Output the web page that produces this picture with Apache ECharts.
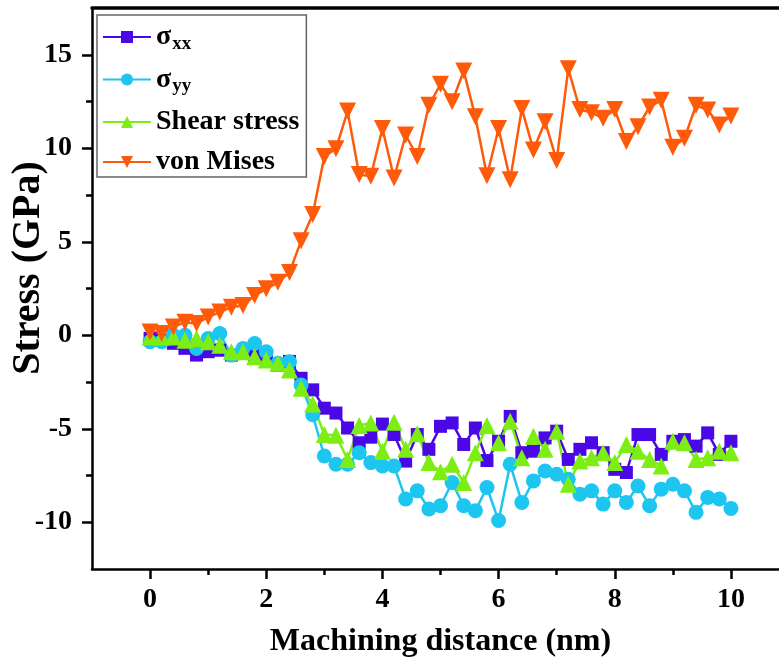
<!DOCTYPE html>
<html>
<head>
<meta charset="utf-8">
<script src="https://cdn.jsdelivr.net/npm/echarts@6/dist/echarts.min.js"></script>
<style>
html,body{margin:0;padding:0;background:#fff;}
#chart{width:779px;height:661px;}
</style>
</head>
<body>
<div id="chart"></div>
<script>
const distance = [0,0.2,0.4,0.6,0.8,1.0,1.2,1.4,1.6,1.8,2.0,2.2,2.4,2.6,2.8,3.0,3.2,3.4,3.6,3.8,4.0,4.2,4.4,4.6,4.8,5.0,5.2,5.4,5.6,5.8,6.0,6.2,6.4,6.6,6.8,7.0,7.2,7.4,7.6,7.8,8.0,8.2,8.4,8.6,8.8,9.0,9.2,9.4,9.6,9.8,10.0];
const sigmaXX = [-0.17,-0.27,-0.43,-0.7,-1.06,-0.88,-0.8,-1.06,-0.97,-1.06,-1.24,-1.6,-1.4,-2.3,-2.92,-3.9,-4.16,-4.96,-5.75,-5.45,-4.75,-5.31,-6.73,-5.31,-6.1,-4.87,-4.69,-5.84,-4.96,-6.7,-5.67,-4.34,-6.28,-6.2,-5.49,-5.13,-6.64,-6.1,-5.75,-6.28,-7.17,-7.34,-5.31,-5.31,-6.37,-5.67,-5.58,-5.93,-5.22,-6.37,-5.67];
const sigmaYY = [-0.35,-0.35,0,0,-0.71,-0.18,0.09,-1.06,-0.71,-0.44,-0.88,-1.5,-1.42,-2.66,-4.25,-6.46,-6.9,-6.9,-6.28,-6.81,-6.99,-6.99,-8.76,-8.32,-9.29,-9.12,-7.88,-9.12,-9.38,-8.14,-9.91,-6.9,-8.94,-7.79,-7.26,-7.43,-7.7,-8.5,-8.32,-9.03,-8.32,-8.94,-8.06,-9.12,-8.23,-7.97,-8.32,-9.47,-8.67,-8.76,-9.26];
const shearStress = [-0.09,-0.09,-0.09,-0.27,-0.18,-0.35,-0.53,-0.88,-0.88,-1.15,-1.33,-1.5,-1.86,-2.83,-3.68,-5.31,-5.35,-6.64,-4.82,-4.69,-6.2,-4.65,-6.1,-5.27,-6.81,-7.3,-6.9,-7.88,-6.28,-4.82,-5.75,-4.6,-6.55,-5.4,-6.1,-5.13,-7.97,-6.73,-6.55,-6.28,-6.81,-5.84,-6.2,-6.64,-6.99,-5.67,-5.75,-6.64,-6.55,-6.2,-6.28];
const vonMises = [0.18,0.1,0.44,0.7,0.63,0.97,1.24,1.5,1.59,2.12,2.48,2.83,3.36,5.05,6.46,9.56,9.97,11.99,8.59,8.5,11.06,8.41,10.71,9.56,12.3,13.42,12.48,14.13,11.68,8.53,11.06,8.32,12.12,9.91,11.42,9.35,14.25,12.07,11.9,11.6,12.07,10.36,11.15,12.21,12.57,10.05,10.53,12.3,12.04,11.24,11.72];
const xMajorTicks = [0,2,4,6,8,10];
const xMinorTicks = [1,3,5,7,9];
const yMajorTicks = [-10,-5,0,5,10,15];
const yMinorTicks = [-7.5,-2.5,2.5,7.5,12.5];
const seriesNames = ['σxx','σyy','Shear stress','von Mises'];
const yTitle = 'Stress (GPa)';
const xTitle = 'Machining distance (nm)';

const FONT = 'Liberation Serif';
const pair = arr => distance.map((d,i)=>[d,arr[i]]);
const chart = echarts.init(document.getElementById('chart'));
const axisLine = {show:true, onZero:false, lineStyle:{color:'#000', width:2.5}};
const hiddenLine = {show:false, onZero:false};
chart.setOption({
  animation:false,
  backgroundColor:'#fff',
  grid:{left:92, top:8, right:-10, bottom:92, containLabel:false, outerBoundsMode:'none'},
  graphic:[{
    type:'text', x:29, y:268, rotation:Math.PI/2,
    style:{text:yTitle, fontFamily:FONT, fontWeight:'bold', fontSize:40, fill:'#000',
           align:'center', verticalAlign:'middle'}
  }],
  legend:{
    left:97, top:15, orient:'vertical', selectedMode:false,
    borderColor:'#666', borderWidth:1.5, padding:[8,7,1,5],
    itemWidth:48, itemHeight:15, itemGap:12, itemTextGap:8,
    data:seriesNames,
    formatter:function(n){
      if(n==='σxx') return '{s|σ}{sub|xx}';
      if(n==='σyy') return '{s|σ}{sub|yy}';
      return n;
    },
    textStyle:{fontFamily:FONT, fontWeight:'bold', fontSize:28, color:'#000', lineHeight:28,
      rich:{
        s:{fontFamily:FONT, fontWeight:'bold', fontSize:28, color:'#000'},
        sub:{fontFamily:FONT, fontWeight:'bold', fontSize:19, color:'#000', padding:[14,0,0,1]}
      }}
  },
  xAxis:[
    {type:'value', min:-1, max:11, position:'bottom',
     axisLine:axisLine,
     axisTick:{show:true, inside:false, length:10, customValues:xMajorTicks, lineStyle:{color:'#000', width:2.5}},
     axisLabel:{show:true, customValues:xMajorTicks, margin:17, fontFamily:FONT, fontWeight:'bold', fontSize:28, color:'#000'},
     splitLine:{show:false},
     name:xTitle, nameLocation:'middle', nameGap:57,
     nameTextStyle:{fontFamily:FONT, fontWeight:'bold', fontSize:32, color:'#000'}},
    {type:'value', min:-1, max:11, position:'bottom',
     axisLine:hiddenLine,
     axisTick:{show:true, inside:false, length:6, customValues:xMinorTicks, lineStyle:{color:'#000', width:2.5}},
     axisLabel:{show:false}, splitLine:{show:false}},
    {type:'value', min:-1, max:11, position:'top',
     axisLine:{show:true, onZero:false, lineStyle:{color:'#000', width:3.5}},
     axisTick:{show:false}, axisLabel:{show:false}, splitLine:{show:false}}
  ],
  yAxis:[
    {type:'value', min:-12.5, max:17.5, position:'left',
     axisLine:axisLine,
     axisTick:{show:true, inside:false, length:10, customValues:yMajorTicks, lineStyle:{color:'#000', width:2.5}},
     axisLabel:{show:true, customValues:yMajorTicks, margin:20, fontFamily:FONT, fontWeight:'bold', fontSize:28, color:'#000'},
     splitLine:{show:false}},
    {type:'value', min:-12.5, max:17.5, position:'left',
     axisLine:hiddenLine,
     axisTick:{show:true, inside:false, length:6, customValues:yMinorTicks, lineStyle:{color:'#000', width:2.5}},
     axisLabel:{show:false}, splitLine:{show:false}}
  ],
  series:[
    {name:seriesNames[0], type:'line', data:pair(sigmaXX), symbol:'rect', symbolSize:13,
     itemStyle:{color:'#4A08E6'}, lineStyle:{color:'#4A08E6', width:2.5}},
    {name:seriesNames[1], type:'line', data:pair(sigmaYY), symbol:'circle', symbolSize:15,
     itemStyle:{color:'#1DC6F0'}, lineStyle:{color:'#1DC6F0', width:2.5}},
    {name:seriesNames[2], type:'line', data:pair(shearStress), symbol:'triangle', symbolSize:17,
     itemStyle:{color:'#7DEE14'}, lineStyle:{color:'#7DEE14', width:2.5}},
    {name:seriesNames[3], type:'line', data:pair(vonMises), symbol:'triangle', symbolRotate:180, symbolSize:17,
     itemStyle:{color:'#FF5A0A'}, lineStyle:{color:'#FF5A0A', width:2.5}}
  ]
});
</script>
</body>
</html>
